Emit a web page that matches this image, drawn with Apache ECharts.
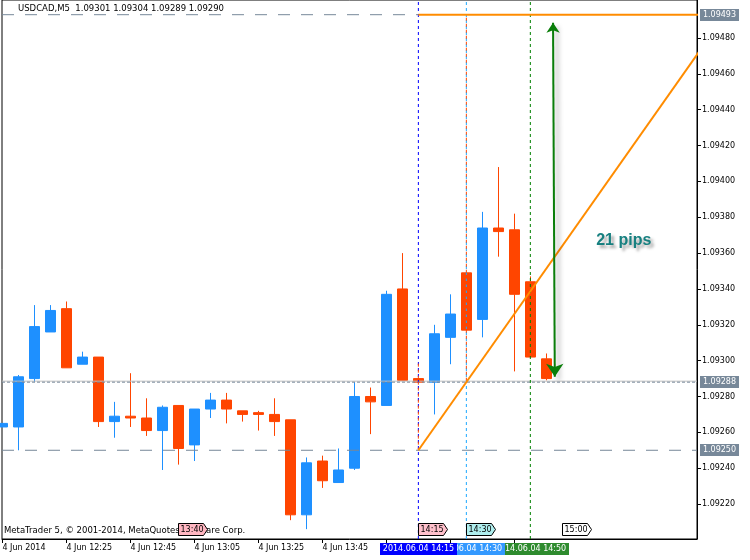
<!DOCTYPE html>
<html><head><meta charset="utf-8">
<script src="https://cdn.jsdelivr.net/npm/echarts@6/dist/echarts.min.js"></script>
<style>html,body{margin:0;padding:0;background:#fff}#c{width:750px;height:560px}</style>
</head><body><div id="c"></div>
<script>
// ---- data ----
const times = ['12:05','12:10','12:15','12:20','12:25','12:30','12:35','12:40','12:45','12:50','12:55','13:00','13:05','13:10','13:15','13:20','13:25','13:30','13:35','13:40','13:45','13:50','13:55','14:00','14:05','14:10','14:15','14:20','14:25','14:30','14:35','14:40','14:45','14:50','14:55'];
const opens  = [1.09263,1.09263,1.09290,1.09316,1.09329,1.09298,1.09302,1.09266,1.09269,1.09268,1.09261,1.09275,1.09253,1.09273,1.09278,1.09272,1.09271,1.09270,1.09267,1.09214,1.09244,1.09232,1.09240,1.09280,1.09275,1.09340,1.09290,1.09288,1.09313,1.09349,1.09323,1.09374,1.09373,1.09344,1.09301];
const closes = [1.09265,1.09291,1.09319,1.09328,1.09296,1.09302,1.09266,1.09269,1.09268,1.09261,1.09274,1.09251,1.09273,1.09278,1.09273,1.09270,1.09270,1.09266,1.09214,1.09243,1.09233,1.09239,1.09280,1.09277,1.09337,1.09289,1.09288,1.09315,1.09326,1.09317,1.09374,1.09372,1.09337,1.09302,1.09290];
const highs  = [1.09265,1.09292,1.09331,1.09331,1.09333,1.09305,1.09302,1.09277,1.09293,1.09279,1.09275,1.09275,1.09273,1.09282,1.09282,1.09272,1.09272,1.09279,1.09267,1.09246,1.09247,1.09251,1.09288,1.09285,1.09339,1.09360,1.09290,1.09320,1.09337,1.09349,1.09383,1.09408,1.09382,1.09347,1.09304];
const lows   = [1.09263,1.09250,1.09288,1.09316,1.09296,1.09298,1.09263,1.09257,1.09263,1.09258,1.09239,1.09242,1.09244,1.09268,1.09265,1.09266,1.09261,1.09258,1.09211,1.09206,1.09229,1.09232,1.09239,1.09259,1.09275,1.09289,1.09288,1.09270,1.09298,1.09317,1.09313,1.09358,1.09294,1.09302,1.09289];

const yTicks = [1.0922,1.0924,1.0926,1.0928,1.0930,1.0932,1.0934,1.0936,1.0938,1.0940,1.0942,1.0944,1.0946,1.0948];
const xTickIndex  = [0,4,8,12,16,20,24,28,32];
const xTickLabels = ['4 Jun 2014','4 Jun 12:25','4 Jun 12:45','4 Jun 13:05','4 Jun 13:25','4 Jun 13:45','4 Jun 14:05','4 Jun 14:25','4 Jun 14:45'];

const levelTop = 1.09493, levelBid = 1.09288, levelLow = 1.09250;
const trendStart = [26, 1.09250], trendEnd = [50, 1.09554];
const arrowTop = [34.42, 1.094885], arrowBottom = [34.53, 1.09291];
const pipsText = '21 pips', pipsAt = [38.84, 1.093667];
const vLines = [
  {idx: 26, color: '#0000FF', label: '2014.06.04 14:15', box: '#0000FF'},
  {idx: 29, color: '#1EA8FF', label: '2014.06.04 14:30', box: '#3399FF'},
  {idx: 33, color: '#008000', label: '2014.06.04 14:50', box: '#2E8B2E'}
];
const redSegs = [ [[26, 1.09300],[26, 1.09250]], [[29, 1.09493],[29, 1.09288]] ];
const timeTags = [
  {idx: 11, text: '13:40', fill: '#FFB6C1'},
  {idx: 26, text: '14:15', fill: '#FFC0CB'},
  {idx: 29, text: '14:30', fill: '#AFEEEE'},
  {idx: 35, text: '15:00', fill: '#FFFFFF'}
];
const titleText = 'USDCAD,M5  1.09301 1.09304 1.09289 1.09290';
const copyright = 'MetaTrader 5, \u00A9 2001-2014, MetaQuotes Software Corp.';

const X_MIN = -0.03, X_MAX = 43.42, Y_MIN = 1.092005, Y_MAX = 1.095012;
const FONT = 'DejaVu Sans';

function seg(pts, color, width, type, z, extra) {
  return {type: 'line', data: pts, showSymbol: false, symbol: 'none', silent: true,
    animation: false, clip: true, z: z,
    lineStyle: Object.assign({color: color, width: width, type: type}, extra || {})};
}

const series = [
  {
    type: 'candlestick', z: 3,
    data: times.map((t, i) => [i, opens[i], closes[i], lows[i], highs[i]]),
    encode: {x: 0, y: [1, 2, 3, 4]},
    barWidth: 10, barMaxWidth: 10,
    itemStyle: {color: '#1E90FF', color0: '#FF4500', borderColor: '#1E90FF', borderColor0: '#FF4500', borderWidth: 1},
    emphasis: {disabled: true}, silent: true, animation: false
  },
  seg([[X_MIN, levelLow], [X_MAX, levelLow]], '#778899', 1, [12, 11], 4),
  seg([[X_MIN, levelTop], [26, levelTop]], '#778899', 1, [12, 11], 4),
  seg([[X_MIN, levelBid + 0.0000055], [X_MAX, levelBid + 0.0000055]], '#C0C0C0', 1, 'solid', 4),
  seg([[X_MIN, levelBid], [X_MAX, levelBid]], '#778899', 1, [3, 2], 4),
];
vLines.forEach(v => series.push(seg([[v.idx, Y_MIN], [v.idx, Y_MAX]], v.color, 1, [3, 3], 5)));
redSegs.forEach(s => series.push(seg(s, '#FF4500', 1, [3, 3], 6, {dashOffset: 3})));
series.push(seg([[26, levelTop], [X_MAX + 2, levelTop]], '#FF8C00', 2, 'solid', 7));
series.push(seg([trendStart, trendEnd], '#FF8C00', 2, 'solid', 7));
series.push({
  type: 'lines', coordinateSystem: 'cartesian2d', z: 8, silent: true, animation: false,
  symbol: ['arrow', 'arrow'], symbolSize: [10, 13],
  lineStyle: {color: '#0A7E0A', width: 2, opacity: 1, curveness: 0,
    shadowColor: 'rgba(0,0,0,0.35)', shadowBlur: 5, shadowOffsetX: 4, shadowOffsetY: 4},
  data: [{coords: [arrowTop, arrowBottom]}]
});

const option = {
  animation: false,
  backgroundColor: '#ffffff',
  grid: {left: 2, right: 53, top: 0, bottom: 21, show: true, borderColor: '#000', borderWidth: 1,
    backgroundColor: '#fff', containLabel: false, outerBoundsMode: 'none'},
  xAxis: {
    type: 'value', min: X_MIN, max: X_MAX,
    axisLine: {show: true, onZero: false, lineStyle: {color: '#000', width: 1}},
    axisTick: {show: true, customValues: xTickIndex, length: 4, lineStyle: {color: '#000'}},
    axisLabel: {show: true, customValues: xTickIndex, align: 'left', margin: 5, color: '#000',
      fontFamily: FONT, fontSize: 8,
      formatter: v => { const k = xTickIndex.indexOf(Math.round(v)); return k >= 0 ? xTickLabels[k] : ''; }},
    splitLine: {show: false}
  },
  yAxis: {
    type: 'value', position: 'right', min: Y_MIN, max: Y_MAX,
    axisLine: {show: true, onZero: false, lineStyle: {color: '#000', width: 1}},
    axisTick: {show: true, customValues: yTicks, length: 4, lineStyle: {color: '#000'}},
    axisLabel: {show: true, customValues: yTicks, margin: 5, color: '#000', fontFamily: FONT, fontSize: 8,
      formatter: v => v.toFixed(5)},
    splitLine: {show: false}
  },
  series: series
};

const chart = echarts.init(document.getElementById('c'), null, {renderer: 'canvas'});
chart.setOption(option);

const px = (x, y) => chart.convertToPixel({gridIndex: 0}, [x, y]);
const g = [];
// title & copyright
g.push({type: 'text', z: 100, style: {text: titleText, x: 18, y: 9, verticalAlign: 'middle', fill: '#000', font: '8.5px ' + FONT}});
g.push({type: 'text', z: 100, style: {text: copyright, x: 4, y: 531, verticalAlign: 'middle', fill: '#000', font: '8.5px ' + FONT}});
// price tags
[levelTop, levelBid, levelLow].forEach(v => {
  const y = Math.round(px(0, v)[1]);
  g.push({type: 'rect', z: 100, shape: {x: 700, y: y - 6, width: 39, height: 12}, style: {fill: '#778899'}});
  g.push({type: 'text', z: 101, style: {text: v.toFixed(5), x: 719.5, y: y, align: 'center', verticalAlign: 'middle', fill: '#fff', font: '8px ' + FONT}});
});
// time tags inside plot
timeTags.forEach(t => {
  const x = Math.round(px(t.idx, Y_MIN)[0]) + 0.5;
  g.push({type: 'polygon', z: 102, shape: {points: [[x, 523.5], [x + 25, 523.5], [x + 29, 529.5], [x + 25, 535.5], [x, 535.5]]},
    style: {fill: t.fill, stroke: '#000', lineWidth: 1}});
  g.push({type: 'text', z: 103, style: {text: t.text, x: x + 2, y: 529.5, verticalAlign: 'middle', fill: '#000', font: '8px ' + FONT}});
});
// bottom date boxes (green first, blue last, each box covering the previous one's text)
vLines.slice().reverse().forEach((v, k) => {
  const x = px(v.idx, Y_MIN)[0];
  const left = Math.round(x - 38.5);
  g.push({type: 'rect', z: 110 + 2 * k, shape: {x: left, y: 543, width: 77, height: 12}, style: {fill: v.box}});
  g.push({type: 'text', z: 111 + 2 * k, style: {text: v.label, x: left + 38.5, y: 549, align: 'center', verticalAlign: 'middle', fill: '#fff', font: '8px ' + FONT}});
});
// 21 pips
const pp = px(pipsAt[0], pipsAt[1]);
g.push({type: 'text', z: 120, style: {text: pipsText, x: pp[0], y: pp[1], align: 'center', verticalAlign: 'middle',
  fill: '#178080', font: 'bold 16px "Liberation Sans"', textShadowColor: 'rgba(0,0,0,0.35)', textShadowBlur: 3, textShadowOffsetX: 3, textShadowOffsetY: 3}});
chart.setOption({graphic: {elements: g}});
</script>
</body></html>
